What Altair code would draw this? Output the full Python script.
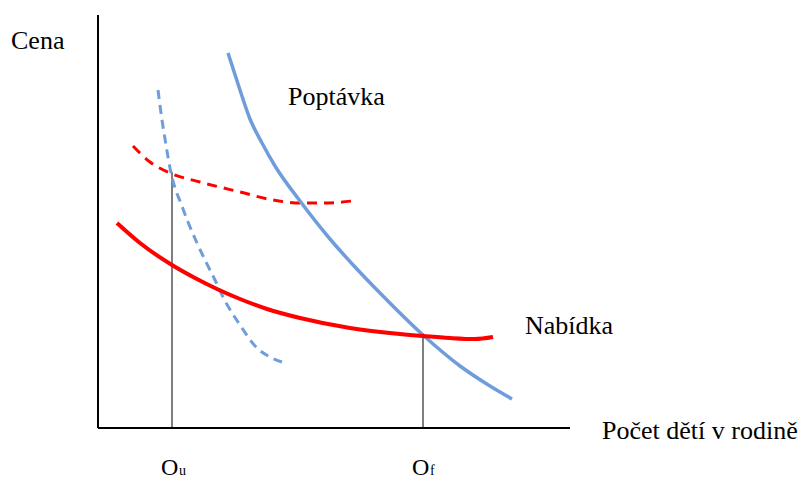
import altair as alt
import pandas as pd

# Units: distance in px from the axis origin (x to the right, y upwards)
demand_x = [130, 141, 152, 164, 177, 202, 232, 257, 282, 325, 362, 392, 414]
demand_y = [375, 341, 309, 285, 262, 227, 189, 161, 135, 93, 62, 42, 29]

demand2_x = [60, 64, 68, 72, 77, 82, 90, 99, 108, 117, 125, 142, 159, 172, 184]
demand2_y = [338, 308, 283, 260, 240, 227, 206, 185, 166, 148, 131, 103, 80, 71, 66]

supply_x = [19, 42, 74, 97, 119, 142, 169, 202, 252, 302, 325, 352, 377, 395]
supply_y = [205, 185, 163, 150, 139, 129, 119, 110, 100, 94, 92, 90, 89, 91]

supply2_x = [35, 52, 72, 102, 142, 175, 202, 227, 254]
supply2_y = [282, 266, 255, 246, 236, 228, 225, 225, 227]

drop_x = [74, 325]
drop_top = [256, 95]

axis_top = 413
axis_right = 472

label_text = ["Cena", "Poptávka", "Nabídka", "Počet dětí v rodině"]
label_x = [-87, 190, 427, 504]
label_y = [379, 323, 94, -11]
o_text = ["O", "O"]
o_x = [63, 314]
o_y = [-47, -47]
sub_text = ["u", "f"]
sub_x = [81, 332]
sub_y = [-47, -47]

W, H = 794, 472
xs = alt.Scale(domain=[-90, 704], nice=False, zero=False)
ys = alt.Scale(domain=[-52, 420], nice=False, zero=False)
X = lambda f: alt.X(f, type="quantitative", scale=xs, axis=None)
Y = lambda f: alt.Y(f, type="quantitative", scale=ys, axis=None)


def curve(xv, yv, color, width, dash=None):
    df = pd.DataFrame({"x": xv, "y": yv, "i": list(range(len(xv)))})
    kw = dict(color=color, strokeWidth=width, interpolate="monotone", strokeCap="butt")
    if dash:
        kw["strokeDash"] = dash
    return alt.Chart(df).mark_line(**kw).encode(x=X("x"), y=Y("y"), order="i:Q")


def texts(tv, xv, yv, size):
    df = pd.DataFrame({"t": tv, "x": xv, "y": yv})
    return alt.Chart(df).mark_text(
        font="Liberation Serif", fontSize=size, align="left",
        baseline="alphabetic", color="black"
    ).encode(x=X("x"), y=Y("y"), text="t")


blue = "#6f9ddc"
red = "#ff0000"

axes_df = pd.DataFrame({"x": [0, 0], "y": [0, 0], "x2": [0, axis_right], "y2": [axis_top, 0]})
axes = alt.Chart(axes_df).mark_rule(color="black", strokeWidth=2).encode(
    x=X("x"), y=Y("y"), x2="x2", y2="y2"
)

drops_df = pd.DataFrame({"x": drop_x, "y": [0, 0], "y2": drop_top})
drops = alt.Chart(drops_df).mark_rule(color="#555555", strokeWidth=1.5).encode(
    x=X("x"), y=Y("y"), y2="y2"
)

chart = alt.layer(
    drops,
    curve(supply2_x, supply2_y, red, 3, [10, 7]),
    curve(demand2_x, demand2_y, blue, 3, [9, 6]),
    curve(demand_x, demand_y, blue, 3.5),
    curve(supply_x, supply_y, red, 4),
    axes,
    texts(label_text, label_x, label_y, 26),
    texts(o_text, o_x, o_y, 24),
    texts(sub_text, sub_x, sub_y, 14),
).properties(
    width=W, height=H, autosize=alt.AutoSizeParams(type="none"), padding=0
).configure_view(strokeWidth=0)

chart.save("out.html", embed_options={"renderer": "svg", "actions": False})
